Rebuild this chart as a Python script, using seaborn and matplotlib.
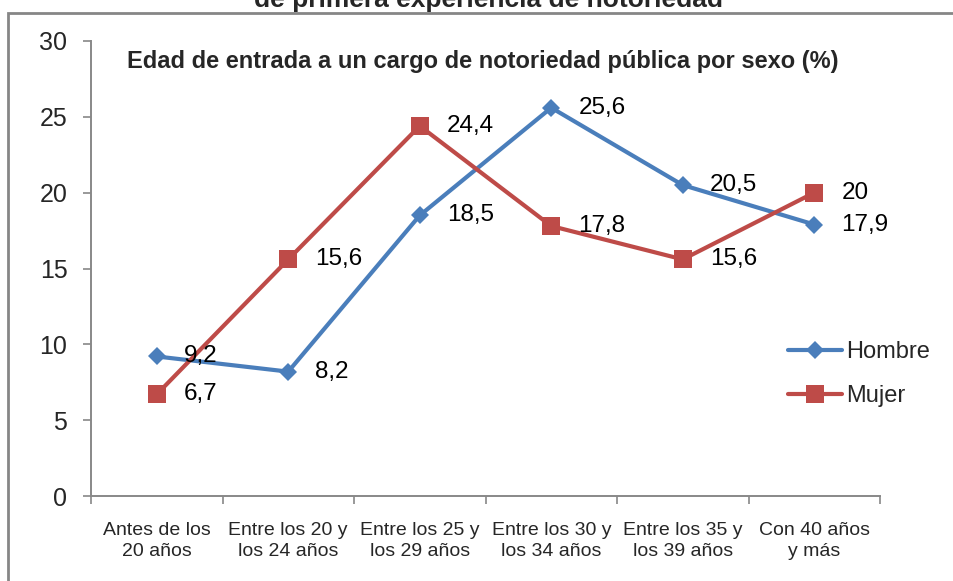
import pandas as pd
import matplotlib.pyplot as plt
import seaborn as sns
from matplotlib.patches import Rectangle

# Data
categorias = ['Antes de los\n20 años', 'Entre los 20 y\nlos 24 años', 'Entre los 25 y\nlos 29 años',
              'Entre los 30 y\nlos 34 años', 'Entre los 35 y\nlos 39 años', 'Con 40 años\ny más']
hombre = [9.2, 8.2, 18.5, 25.6, 20.5, 17.9]
mujer = [6.7, 15.6, 24.4, 17.8, 15.6, 20]
series = ['Hombre', 'Mujer']
y_ticks = [0, 5, 10, 15, 20, 25, 30]

sns.set_theme(style='white')
plt.rcParams['font.family'] = ['Liberation Sans', 'DejaVu Sans']

df = pd.DataFrame({
    'Edad': categorias * 2,
    'Valor': hombre + mujer,
    'Sexo': ['Hombre'] * len(hombre) + ['Mujer'] * len(mujer),
})

colores = {'Hombre': '#4A7EBB', 'Mujer': '#BE4B48'}
marcadores = {'Hombre': 'D', 'Mujer': 's'}

fig = plt.figure(figsize=(9.54, 5.81), dpi=100)
ax = fig.add_axes([91 / 954, 1 - 496 / 581, (880 - 91) / 954, (496 - 41) / 581])

for s in series:
    sub = df[df['Sexo'] == s]
    sns.lineplot(data=sub, x='Edad', y='Valor', ax=ax, color=colores[s], marker=marcadores[s],
                 markersize=9.5 if s == 'Hombre' else 13.5, markeredgewidth=0, linewidth=3,
                 label=s, sort=False)
    for i, v in enumerate(sub['Valor']):
        txt = f'{v:g}'.replace('.', ',')
        ax.annotate(txt, (i, v), xytext=(19.5, 0), textcoords='offset points',
                    ha='left', va='center', fontsize=17.5, color='black')

ax.set_xlim(-0.5, len(categorias) - 0.5)
ax.set_ylim(0, 30)
ax.set_yticks(y_ticks)
ax.set_xlabel('')
ax.set_ylabel('')

for side in ['top', 'right']:
    ax.spines[side].set_visible(False)
for side in ['left', 'bottom']:
    ax.spines[side].set_color('#888888')
    ax.spines[side].set_linewidth(1.4)

ax.tick_params(axis='y', which='major', length=6, width=1.2, color='#888888', direction='out',
               labelsize=18, pad=11, left=True)
ax.set_xticks(range(len(categorias)))
ax.set_xticklabels(categorias, fontsize=14, linespacing=1.25)
ax.tick_params(axis='x', which='major', length=0, pad=19)
ax.set_xticks([k - 0.5 for k in range(len(categorias) + 1)], minor=True)
ax.tick_params(axis='x', which='minor', length=6, width=1.2, color='#888888', direction='out', bottom=True)

ax.text(0.045, 0.955, 'Edad de entrada a un cargo de notoriedad pública por sexo (%)',
        transform=ax.transAxes, fontsize=17, fontweight='bold', ha='left', va='center')

leg = ax.legend(loc='upper left', bbox_to_anchor=(788 / 954, 1 - 341 / 581),
                bbox_transform=fig.transFigure, frameon=False, fontsize=17,
                handlelength=2.3, handletextpad=0.15, labelspacing=0.95,
                borderpad=0, borderaxespad=0)

# outer chart frame and the cut-off heading above it
fig.patches.append(Rectangle((8 / 954, -0.05), 1.0, 1 - 13 / 581 + 0.05, transform=fig.transFigure,
                             fill=False, edgecolor='#868686', linewidth=2))
fig.text(489 / 954, 1 - 7 / 581, 'de primera experiencia de notoriedad', ha='center', va='baseline',
         fontsize=19, fontweight='bold')

plt.savefig('out.png', dpi=100)
